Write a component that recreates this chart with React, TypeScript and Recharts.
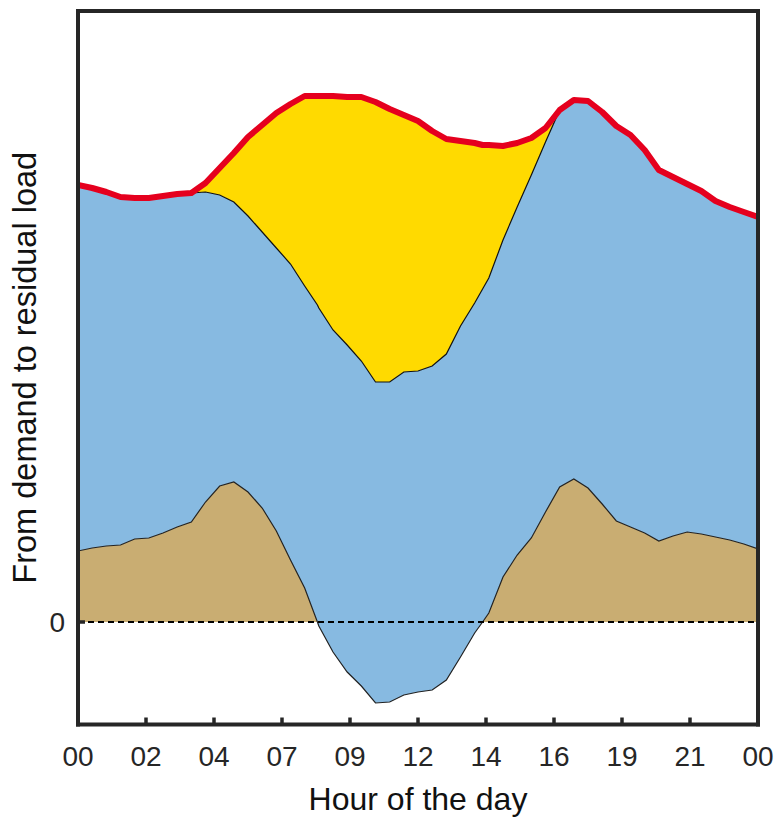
import React from 'react';
import { ComposedChart, Area, Line, XAxis, YAxis, ReferenceLine, Label } from 'recharts';

const FONT = '"Liberation Sans", Arial, Helvetica, sans-serif';
const INK = '#262626';

// Hour of the day (numeric), including the two hours where the residual load crosses zero
const hours = [0, 0.5, 1, 1.5, 2, 2.5, 3, 3.5, 4, 4.5, 5, 5.5, 6, 6.5, 7, 7.5, 8, 8.45, 8.5, 9, 9.5, 10, 10.5, 11, 11.5, 12, 12.5, 13, 13.5, 14, 14.28, 14.5, 15, 15.5, 16, 16.5, 17, 17.5, 18, 18.5, 19, 19.5, 20, 20.5, 21, 21.5, 22, 22.5, 23, 23.5, 24];

// Demand (red line)
const demand = [43.7, 43.4, 43.0, 42.5, 42.4, 42.4, 42.6, 42.8, 42.9, 43.9, 45.4, 46.9, 48.5, 49.7, 50.9, 51.8, 52.6, 52.6, 52.6, 52.6, 52.5, 52.5, 52.0, 51.3, 50.7, 50.1, 49.1, 48.3, 48.1, 47.9, 47.7, 47.7, 47.6, 47.9, 48.4, 49.4, 51.2, 52.2, 52.1, 51.0, 49.6, 48.7, 47.2, 45.2, 44.5, 43.8, 43.1, 42.1, 41.5, 41.0, 40.5];

// Demand minus solar (top of the blue band)
const netOfSolar = [43.7, 43.4, 43.0, 42.5, 42.4, 42.4, 42.6, 42.8, 42.9, 43.0, 42.7, 42.0, 40.6, 39.0, 37.4, 35.8, 33.6, 31.7, 31.4, 29.2, 27.7, 26.1, 24.0, 24.0, 25.0, 25.1, 25.6, 26.8, 29.6, 31.9, 33.3, 34.4, 38.2, 41.5, 44.7, 48.0, 51.2, 52.2, 52.1, 51.0, 49.6, 48.7, 47.2, 45.2, 44.5, 43.8, 43.1, 42.1, 41.5, 41.0, 40.5];

// Residual load: demand minus solar minus wind
const residual = [7.1, 7.4, 7.6, 7.7, 8.3, 8.4, 8.9, 9.5, 10.0, 12.0, 13.6, 14.0, 13.0, 11.4, 9.1, 6.2, 3.4, 0, -0.4, -3.0, -5.0, -6.4, -8.1, -8.0, -7.3, -7.0, -6.8, -5.8, -3.5, -1.1, 0, 0.9, 4.5, 6.7, 8.4, 11.0, 13.5, 14.3, 13.4, 11.8, 10.1, 9.5, 8.9, 8.1, 8.6, 9.0, 8.8, 8.5, 8.2, 7.8, 7.3];

const xTicks = [0, 2.4, 4.8, 7.2, 9.6, 12, 14.4, 16.8, 19.2, 21.6, 24];
const xTickLabels = ['00', '02', '04', '07', '09', '12', '14', '16', '19', '21', '00'];
const yTicks = [0];
const yDomain = [-10.25, 61.1];

const rows = hours.map((h, i) => ({
  hour: h,
  demand: demand[i],
  net: netOfSolar[i],
  residual: residual[i],
  solarBand: [netOfSolar[i], demand[i]],
  windBand: [residual[i], netOfSolar[i]],
  residualBand: [0, Math.max(residual[i], 0)],
}));

const frame = { stroke: INK, strokeWidth: 4, strokeLinecap: 'square' as const };
const tickLn = { stroke: INK, strokeWidth: 3.5 };

export default function App() {
  return (
    <div style={{ width: 775, height: 817, overflow: 'hidden' }}>
      <style>{`html, body { margin: 0; padding: 0; overflow: hidden; }`}</style>
      <ComposedChart
        width={775}
        height={817}
        data={rows}
        margin={{ top: 10, right: 16, bottom: 62.5, left: 18 }}
      >
        <XAxis
          dataKey="hour"
          type="number"
          domain={[0, 24]}
          allowDataOverflow
          ticks={xTicks}
          interval={0}
          tickFormatter={(v: number, i: number) => xTickLabels[i]}
          height={30}
          tickSize={-7}
          tickMargin={28.5}
          axisLine={frame}
          tickLine={tickLn}
          tick={{ fontSize: 28, fill: INK, fontFamily: FONT }}
        >
          <Label
            content={(p: any) => {
              const vb = p.viewBox;
              return (
                <text x={vb.x + vb.width / 2} y={vb.y + 85} textAnchor="middle" fontSize={32} fill="#111" fontFamily={FONT}>
                  Hour of the day
                </text>
              );
            }}
          />
        </XAxis>
        <XAxis
          xAxisId="top"
          orientation="top"
          dataKey="hour"
          type="number"
          domain={[0, 24]}
          allowDataOverflow
          ticks={xTicks}
          interval={0}
          height={1}
          tickSize={-7}
          tick={false}
          axisLine={frame}
          tickLine={tickLn}
        />
        <YAxis
          type="number"
          domain={yDomain}
          allowDataOverflow
          ticks={yTicks}
          width={60}
          tickSize={-7}
          tickMargin={20}
          axisLine={frame}
          tickLine={tickLn}
          tick={{ fontSize: 28, fill: INK, fontFamily: FONT }}
        >
          <Label
            content={(p: any) => {
              const vb = p.viewBox;
              const cx = vb.x + 18;
              const cy = vb.y + vb.height / 2;
              return (
                <text x={cx} y={cy} transform={`rotate(-90 ${cx} ${cy})`} textAnchor="middle" fontSize={32.5} fill="#111" fontFamily={FONT}>
                  From demand to residual load
                </text>
              );
            }}
          />
        </YAxis>
        <YAxis
          yAxisId="right"
          orientation="right"
          type="number"
          domain={yDomain}
          allowDataOverflow
          ticks={yTicks}
          width={1}
          tickSize={-7}
          tick={false}
          axisLine={frame}
          tickLine={tickLn}
        />
        <Area type="linear" dataKey="solarBand" fill="#FFDA00" fillOpacity={1} stroke="none" isAnimationActive={false} />
        <Area type="linear" dataKey="windBand" fill="#87BAE1" fillOpacity={1} stroke="none" isAnimationActive={false} />
        <Area type="linear" dataKey="residualBand" fill="#C9AD72" fillOpacity={1} stroke="none" isAnimationActive={false} />
        <Line type="linear" dataKey="net" stroke="#111" strokeWidth={1.2} dot={false} isAnimationActive={false} />
        <Line type="linear" dataKey="residual" stroke="#222" strokeWidth={1.2} dot={false} isAnimationActive={false} />
        <ReferenceLine y={0} stroke="#000" strokeWidth={1.8} strokeDasharray="6 4" />
        <Line type="linear" dataKey="demand" stroke="#E5001E" strokeWidth={6} strokeLinejoin="round" dot={false} isAnimationActive={false} />
      </ComposedChart>
    </div>
  );
}
